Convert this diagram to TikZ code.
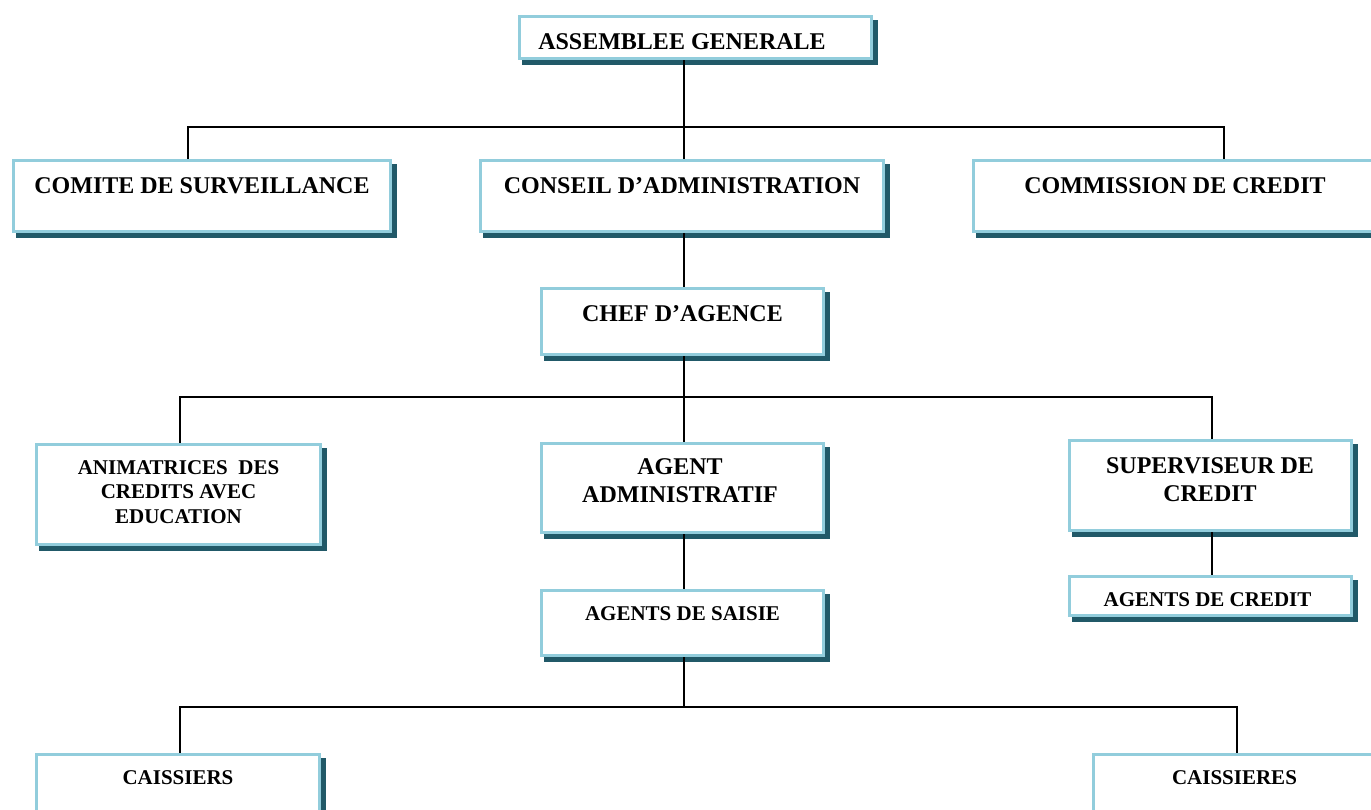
\documentclass[tikz,border=0pt]{standalone}
\usepackage{fontspec}
\setmainfont{Liberation Serif}
\usetikzlibrary{backgrounds}
\definecolor{bordercol}{HTML}{92CDDC}
\definecolor{shadowcol}{HTML}{215968}
\tikzset{
  orgbox/.style={draw=bordercol, line width=3pt, fill=white, inner sep=0pt, outer sep=0pt, rectangle},
  bigtxt/.style={font=\fontsize{24}{27.5}\selectfont\bfseries, align=center, inner sep=0pt, anchor=base},
  smalltxt/.style={font=\fontsize{21}{24.5}\selectfont\bfseries, align=center, inner sep=0pt, anchor=base},
  conn/.style={draw=black, line width=2pt},
  shade/.style={fill=shadowcol}
}
\newcommand\mkbox[5]{%
  \node[orgbox, minimum width={#4-#2-3}, minimum height={#5-#3-3}] (#1) at ({(#2+#4)/2},{(#3+#5)/2}) {};}
\newcommand\mkshadow[1]{%
  \fill[shade] ([xshift=2pt,yshift=-3pt]#1.north west) rectangle ([xshift=6.5pt,yshift=-6.5pt]#1.south east);}
\begin{document}
\begin{tikzpicture}[x=1pt,y=-1pt]
\useasboundingbox (0,0) rectangle (1371,809);
% boxes
\mkbox{b1}{518}{15}{873}{60}
\mkbox{b2}{12}{159}{392}{233}
\mkbox{b3}{479}{159}{885}{233}
\mkbox{b4}{972}{159}{1385}{233}
\mkbox{b5}{540}{287}{825}{356}
\mkbox{b6}{35}{443}{322}{546}
\mkbox{b7}{540}{442}{825}{534}
\mkbox{b8}{540}{589}{825}{657}
\mkbox{b9}{1068}{439}{1353}{532}
\mkbox{b10}{1068}{575}{1353}{617}
\mkbox{b11}{35}{753}{321}{840}
\mkbox{b12}{1092}{753}{1385}{840}
% texts
\node[bigtxt] (t1) at (682,49) {ASSEMBLEE GENERALE};
\node[bigtxt] (t2) at (202,193) {COMITE DE SURVEILLANCE};
\node[bigtxt] (t3) at (682,193) {CONSEIL D’ADMINISTRATION};
\node[bigtxt] (t4) at (1175,193) {COMMISSION DE CREDIT};
\node[bigtxt] (t5) at (682.5,321) {CHEF D’AGENCE};
\node[smalltxt] (t6) at (178.5,523) {ANIMATRICES\ \ DES\\CREDITS AVEC\\EDUCATION};
\node[bigtxt] (t7) at (680,502) {AGENT\\ADMINISTRATIF};
\node[smalltxt] (t8) at (682.5,620) {AGENTS DE SAISIE};
\node[bigtxt] (t9) at (1210,501) {SUPERVISEUR DE\\CREDIT};
\node[smalltxt] (t10) at (1207.5,606) {AGENTS DE CREDIT};
\node[smalltxt] (t11) at (178,784) {CAISSIERS};
\node[smalltxt] (t12) at (1234.5,784) {CAISSIERES};
% junction coordinates
\coordinate (j1) at (684,127);
\coordinate (x2) at (188,127);
\coordinate (x4) at (1224,127);
\coordinate (j2) at (684,397);
\coordinate (x6) at (180,397);
\coordinate (x9) at (1212,397);
\coordinate (j3) at (684,707);
\coordinate (x12) at (1237,707);
\begin{pgfonlayer}{background}
\mkshadow{b1}\mkshadow{b2}\mkshadow{b3}\mkshadow{b4}\mkshadow{b5}\mkshadow{b6}
\mkshadow{b7}\mkshadow{b8}\mkshadow{b9}\mkshadow{b10}\mkshadow{b11}\mkshadow{b12}
\draw[conn] (b1.south -| j1) -- (b3.north -| j1);
\draw[conn] (b2.north -| x2) -- (x2) -- (x4) -- (b4.north -| x4);
\draw[conn] (b3.south -| j1) -- (b5.north -| j1);
\draw[conn] (b5.south -| j2) -- (b7.north -| j2);
\draw[conn] (b6.north -| x6) -- (x6) -- (x9) -- (b9.north -| x9);
\draw[conn] (b7.south -| j2) -- (b8.north -| j2);
\draw[conn] (b9.south -| x9) -- (b10.north -| x9);
\draw[conn] (b8.south -| j3) -- (j3);
\draw[conn] (b11.north -| x6) -- (x6 |- j3) -- (x12) -- (b12.north -| x12);
\end{pgfonlayer}
\end{tikzpicture}
\end{document}
